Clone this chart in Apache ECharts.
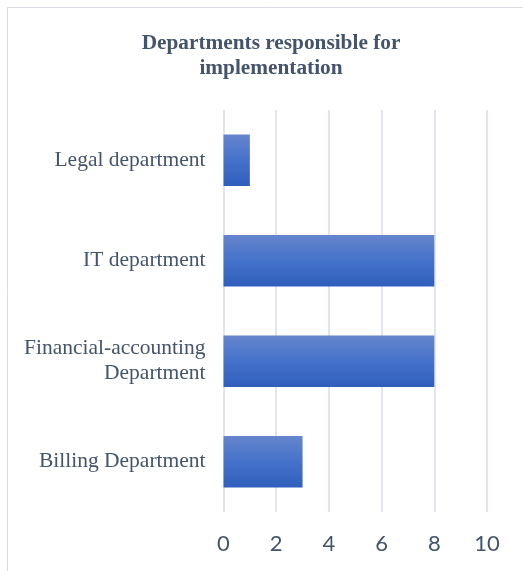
<!DOCTYPE html>
<html>
<head>
<meta charset="utf-8">
<script src="https://cdn.jsdelivr.net/npm/echarts@6/dist/echarts.min.js"></script>
<style>
  html, body { margin: 0; padding: 0; background: #fff; }
  #chart { width: 523px; height: 571px; }
</style>
</head>
<body>
<div id="chart"></div>
<script>
// Departments, listed top to bottom
const departments = [
  'Legal department',
  'IT department',
  'Financial-accounting\nDepartment',
  'Billing Department'
];
// Number of mentions per department
const counts = [1, 8, 8, 3];
// Value axis ticks
const axisMin = 0;
const axisMax = 10;
const axisStep = 2;

const chart = echarts.init(document.getElementById('chart'));

chart.setOption({
  animation: false,
  backgroundColor: '#ffffff',
  graphic: [{
    type: 'rect',
    shape: { x: 7.5, y: 7.5, width: 560, height: 600 },
    style: { fill: 'none', stroke: '#D9DDE3', lineWidth: 1 },
    silent: true
  }],
  title: {
    text: 'Departments responsible for\nimplementation',
    left: 266,
    top: 26,
    textAlign: 'center',
    textStyle: {
      fontFamily: 'Liberation Serif',
      fontWeight: 'bold',
      fontSize: 21.3,
      lineHeight: 25,
      color: '#44546A'
    }
  },
  grid: {
    left: 223.5,
    right: 36,
    top: 110,
    bottom: 59,
    containLabel: false
  },
  xAxis: {
    type: 'value',
    min: axisMin,
    max: axisMax,
    interval: axisStep,
    axisLine: { show: false },
    axisTick: { show: false },
    splitLine: { lineStyle: { color: '#D9DDE6', width: 1.5 } },
    axisLabel: {
      margin: 21,
      fontFamily: 'Lato',
      fontSize: 22,
      color: '#44546A'
    }
  },
  yAxis: {
    type: 'category',
    inverse: true,
    data: departments,
    axisLine: { show: false },
    axisTick: { show: false },
    axisLabel: {
      margin: 18,
      fontFamily: 'Liberation Serif',
      fontSize: 21.5,
      lineHeight: 25,
      color: '#44546A',
      align: 'right'
    }
  },
  series: [{
    type: 'bar',
    data: counts,
    barCategoryGap: '49%',
    itemStyle: {
      color: new echarts.graphic.LinearGradient(0, 0, 0, 1, [
        { offset: 0, color: '#6585CD' },
        { offset: 0.5, color: '#4572CA' },
        { offset: 1, color: '#2F5EBC' }
      ])
    }
  }]
});
</script>
</body>
</html>
